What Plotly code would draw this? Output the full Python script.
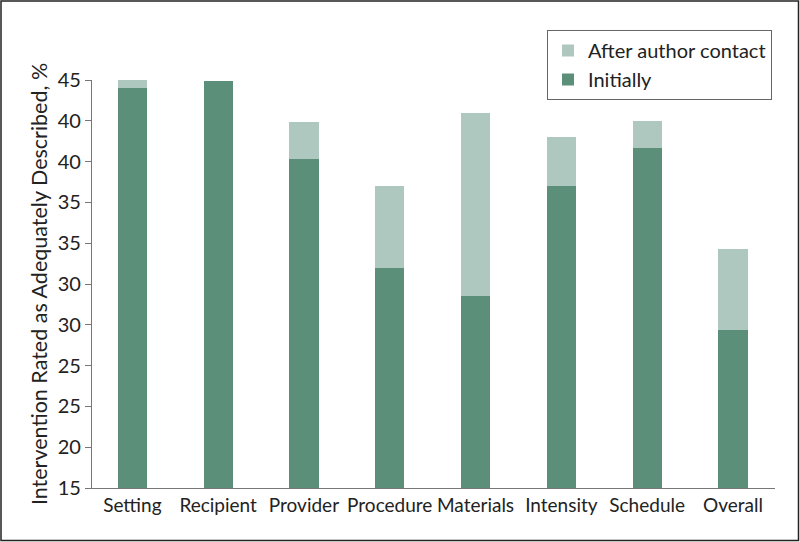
import plotly.graph_objects as go

categories = ["Setting", "Recipient", "Provider", "Procedure", "Materials", "Intensity", "Schedule", "Overall"]
initially = [44.4, 44.9, 39.2, 31.2, 29.1, 37.2, 40.0, 26.6]
totals = [45.0, 44.9, 41.9, 37.2, 42.6, 40.8, 42.0, 32.6]
after_contact = [round(t - i, 2) for t, i in zip(totals, initially)]

tick_vals = [15, 18, 21, 24, 27, 30, 33, 36, 39, 42, 45]
tick_text = ["15", "20", "25", "25", "30", "30", "35", "35", "40", "40", "45"]

DARK = "#5b8f7a"
LIGHT = "#aec7bf"
FONT = "Lato, Open Sans, sans-serif"

fig = go.Figure()
fig.add_trace(go.Bar(x=categories, y=initially, name="Initially",
                     marker=dict(color=DARK, line=dict(width=0))))
fig.add_trace(go.Bar(x=categories, y=after_contact, name="After author contact",
                     marker=dict(color=LIGHT, line=dict(width=0))))

L, R, T, B = 92, 25, 80, 54
W, H = 800, 542
pw, ph = W - L - R, H - T - B

fig.update_layout(
    width=W, height=H,
    barmode="stack",
    bargap=0.66,
    plot_bgcolor="white", paper_bgcolor="white",
    margin=dict(l=L, r=R, t=T, b=B),
    font=dict(family=FONT, size=19, color="#222222"),
    legend=dict(traceorder="reversed", x=(547 - L) / pw, y=(488 - 30) / ph,
                xanchor="left", yanchor="top",
                bordercolor="#666666", borderwidth=1, bgcolor="white",
                font=dict(size=20, family=FONT), itemwidth=30,
                tracegroupgap=0),
    xaxis=dict(range=[-0.47, 7.49], showline=True, linecolor="#777777", linewidth=1.2,
               ticks="", tickfont=dict(size=19), showgrid=False),
    yaxis=dict(range=[15, 45], tickvals=tick_vals, ticktext=tick_text,
               showline=True, linecolor="#777777", linewidth=1.2,
               ticks="outside", ticklen=6, tickcolor="#777777",
               tickfont=dict(size=20), showgrid=False, zeroline=False,
               title=dict(text="Intervention Rated as Adequately Described, %",
                          font=dict(size=21.5), standoff=4)),
    shapes=[dict(type="rect", xref="paper", yref="paper",
                 x0=(1 - L) / pw, x1=(798.5 - L) / pw,
                 y0=(488 - 540.5) / ph, y1=(488 - 1) / ph,
                 line=dict(color="#222222", width=1.5))],
)

fig.write_html("out.html", config={"displayModeBar": False},
               post_script="document.body.style.margin='0';document.body.style.overflow='hidden';")
